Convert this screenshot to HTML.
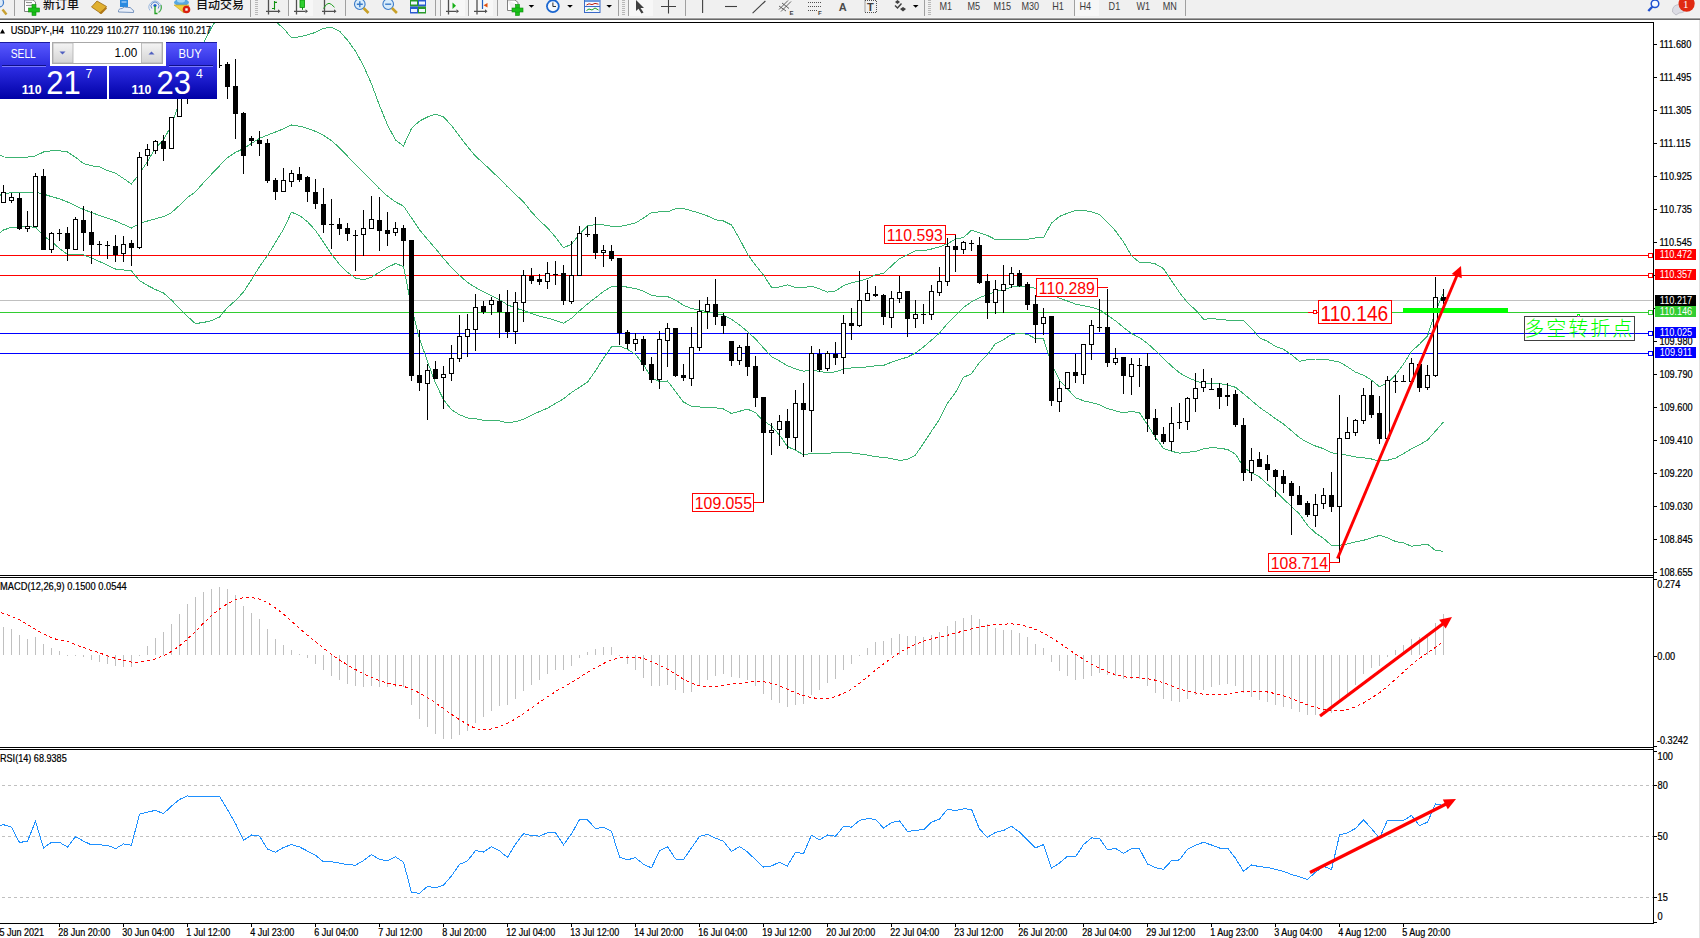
<!DOCTYPE html>
<html><head><meta charset="utf-8"><title>USDJPY H4</title>
<style>html,body{margin:0;padding:0;background:#fff;}body{width:1700px;height:938px;overflow:hidden;position:relative;}text{white-space:pre;}</style>
</head><body>
<svg width="1700" height="938" viewBox="0 0 1700 938" style="position:absolute;left:0;top:0"><rect x="0" y="0" width="1700" height="17" fill="#f0f0f0"/>
<rect x="0" y="17" width="1700" height="1" fill="#f4f4f4"/>
<rect x="0" y="18" width="1700" height="1" fill="#a0a0a0"/>
<rect x="0" y="19" width="1700" height="1" fill="#696969"/>
<rect x="0" y="20" width="1700" height="2" fill="#fff"/>
<rect x="289" y="0" width="24" height="16" fill="#f7f7f7"/>
<rect x="441" y="0" width="24" height="16" fill="#f7f7f7"/>
<rect x="469" y="0" width="24" height="16" fill="#f7f7f7"/>
<rect x="629" y="0" width="24" height="16" fill="#f7f7f7"/>
<rect x="1075" y="0" width="24" height="16" fill="#f7f7f7"/>
<rect x="14" y="0" width="1" height="16" fill="#a0a0a0"/>
<rect x="288" y="0" width="1" height="16" fill="#a0a0a0"/>
<rect x="345" y="0" width="1" height="16" fill="#a0a0a0"/>
<rect x="435" y="0" width="1" height="16" fill="#a0a0a0"/>
<rect x="440" y="0" width="1" height="16" fill="#a0a0a0"/>
<rect x="468" y="0" width="1" height="16" fill="#a0a0a0"/>
<rect x="497" y="0" width="1" height="16" fill="#a0a0a0"/>
<rect x="618" y="0" width="1" height="16" fill="#a0a0a0"/>
<rect x="628" y="0" width="1" height="16" fill="#a0a0a0"/>
<rect x="685" y="0" width="1" height="16" fill="#a0a0a0"/>
<rect x="924" y="0" width="1" height="16" fill="#a0a0a0"/>
<rect x="1074" y="0" width="1" height="16" fill="#a0a0a0"/>
<rect x="1185" y="0" width="1" height="16" fill="#a0a0a0"/>
<rect x="250" y="0" width="1" height="17" fill="#a0a0a0"/>
<rect x="255" y="0" width="3" height="1" fill="#b8b8b8"/>
<rect x="255" y="2" width="3" height="1" fill="#b8b8b8"/>
<rect x="255" y="4" width="3" height="1" fill="#b8b8b8"/>
<rect x="255" y="6" width="3" height="1" fill="#b8b8b8"/>
<rect x="255" y="8" width="3" height="1" fill="#b8b8b8"/>
<rect x="255" y="10" width="3" height="1" fill="#b8b8b8"/>
<rect x="255" y="12" width="3" height="1" fill="#b8b8b8"/>
<rect x="255" y="14" width="3" height="1" fill="#b8b8b8"/>
<rect x="622" y="0" width="3" height="1" fill="#b8b8b8"/>
<rect x="622" y="2" width="3" height="1" fill="#b8b8b8"/>
<rect x="622" y="4" width="3" height="1" fill="#b8b8b8"/>
<rect x="622" y="6" width="3" height="1" fill="#b8b8b8"/>
<rect x="622" y="8" width="3" height="1" fill="#b8b8b8"/>
<rect x="622" y="10" width="3" height="1" fill="#b8b8b8"/>
<rect x="622" y="12" width="3" height="1" fill="#b8b8b8"/>
<rect x="622" y="14" width="3" height="1" fill="#b8b8b8"/>
<rect x="928" y="0" width="3" height="1" fill="#b8b8b8"/>
<rect x="928" y="2" width="3" height="1" fill="#b8b8b8"/>
<rect x="928" y="4" width="3" height="1" fill="#b8b8b8"/>
<rect x="928" y="6" width="3" height="1" fill="#b8b8b8"/>
<rect x="928" y="8" width="3" height="1" fill="#b8b8b8"/>
<rect x="928" y="10" width="3" height="1" fill="#b8b8b8"/>
<rect x="928" y="12" width="3" height="1" fill="#b8b8b8"/>
<rect x="928" y="14" width="3" height="1" fill="#b8b8b8"/>
<g fill="#101010" font-family="'Liberation Sans', 'Noto Sans CJK SC', sans-serif" font-weight="500">
<text x="43" y="8.6" font-size="12">新订单</text>
<text x="196" y="8.6" font-size="12">自动交易</text>
</g>
<circle cx="-1" cy="2.5" r="4.5" fill="#dceaf8" stroke="#3a78c8" stroke-width="1.2"/><line x1="2.5" y1="9.5" x2="6.5" y2="14.5" stroke="#c8a030" stroke-width="2.4"/>
<path d="M24.5,0 V11.5 H32 M24.5,0 H33 L35.5,2 V5" fill="#fff" stroke="#808080"/><rect x="26" y="2" width="6" height="1" fill="#909090"/><rect x="26" y="5" width="6" height="1" fill="#909090"/>
<rect x="32" y="4.5" width="4" height="11" fill="#19c019" stroke="#0a8a0a" stroke-width="0.6"/><rect x="28.5" y="8" width="11" height="4" fill="#19c019" stroke="#0a8a0a" stroke-width="0.6"/><rect x="32.4" y="8.4" width="3.2" height="3.2" fill="#19c019"/>
<polygon points="91.5,7 97,1 106.5,6.5 101,13.5" fill="#e0b030" stroke="#9a6a10" stroke-width="0.8"/><polygon points="99,13 106,7 107,8.5 101.5,14" fill="#b07818"/>
<rect x="120" y="0" width="8" height="7" fill="#2a8ae0"/><rect x="121.5" y="1.5" width="5" height="1" fill="#cfe6ff"/><path d="M118.5,12 Q118,8.5 122,8.5 Q124,6 127.5,7.5 Q131,6.5 132,9.5 Q134.5,10 133.5,12.5 Z" fill="#e8eef8" stroke="#6a8ab8" stroke-width="0.9"/>
<path d="M150,10.5 A6,6 0 1 1 160,10.5" fill="none" stroke="#9ab8e0" stroke-width="1"/><path d="M151.8,8.5 A4,4 0 1 1 158.2,8.5" fill="none" stroke="#5a88d0" stroke-width="1"/><circle cx="155" cy="5.5" r="1.6" fill="#1a5ad0"/><path d="M155,6 V13.5 H157.5" fill="none" stroke="#20a020" stroke-width="1.3"/><path d="M158.5,12.5 A6.5,6.5 0 0 0 161,5" fill="none" stroke="#50b050" stroke-width="1.2"/>
<ellipse cx="181.5" cy="2.5" rx="7.5" ry="3.5" fill="#58a8e0"/><ellipse cx="181" cy="0.5" rx="4" ry="2" fill="#a8d8f8"/><polygon points="174,5 189,5 184,13" fill="#f0d040" stroke="#c0a020" stroke-width="0.6"/><circle cx="186.5" cy="9.5" r="3.8" fill="#d82010"/><rect x="185.3" y="8.3" width="2.4" height="2.4" fill="#fff"/>
<path d="M268.5,0 V14.5 M266,11.3 H278" fill="none" stroke="#505050" stroke-width="1.3"/><polygon points="278,9.3 280.5,11.3 278,13.3" fill="#505050"/><path d="M274.5,1 V9.8 M274.5,2.4 H277 M274.5,8.5 H272" fill="none" stroke="#109010" stroke-width="1.1"/>
<path d="M296.5,0 V14.5 M294,11.3 H305.5" fill="none" stroke="#505050" stroke-width="1.3"/><polygon points="305.5,9.3 308.0,11.3 305.5,13.3" fill="#505050"/><rect x="300" y="0" width="4.5" height="7.5" fill="#30d030" stroke="#089008" stroke-width="0.8"/><rect x="302" y="7.5" width="1" height="2.3" fill="#089008"/>
<path d="M324.5,0 V14.5 M322,11.3 H334" fill="none" stroke="#505050" stroke-width="1.3"/><polygon points="334,9.3 336.5,11.3 334,13.3" fill="#505050"/><path d="M323.5,8.5 Q326.5,3 329,3.3 Q331,3.5 334.5,7.3" fill="none" stroke="#20a020" stroke-width="1"/>
<circle cx="359.8" cy="4.2" r="5.3" fill="#d8ecfa" stroke="#3a7ac8" stroke-width="1.1"/><path d="M356.8,4.2 H362.8 M359.8,1.2 V7.2" stroke="#3a7ac8" stroke-width="1.4"/><line x1="363.5" y1="8" x2="368.5" y2="13" stroke="#c8a028" stroke-width="2.6"/>
<circle cx="388.2" cy="4.2" r="5.3" fill="#d8ecfa" stroke="#3a7ac8" stroke-width="1.1"/><path d="M385.2,4.2 H391.2" stroke="#3a7ac8" stroke-width="1.4"/><line x1="391.9" y1="8" x2="396.9" y2="13" stroke="#c8a028" stroke-width="2.6"/>
<rect x="410" y="0" width="8" height="6.5" fill="#2a9a2a"/><rect x="418" y="0" width="8" height="6.5" fill="#2a5ad0"/><rect x="410" y="6.5" width="8" height="7" fill="#2a5ad0"/><rect x="418" y="6.5" width="8" height="7" fill="#2a9a2a"/>
<rect x="411" y="1.5" width="6" height="3" fill="#f0f6ff"/>
<rect x="419" y="1.5" width="6" height="3" fill="#f0f6ff"/>
<rect x="411" y="9" width="6" height="3" fill="#f0f6ff"/>
<rect x="419" y="9" width="6" height="3" fill="#f0f6ff"/>
<path d="M448.5,0 V14.5 M446,11.3 H456.5" fill="none" stroke="#505050" stroke-width="1.3"/><polygon points="456.5,9.3 459.0,11.3 456.5,13.3" fill="#505050"/><polygon points="452.5,2.5 452.5,9 456,5.7" fill="#18b018"/>
<path d="M477.0,0 V14.5 M474,11.3 H485" fill="none" stroke="#505050" stroke-width="1.3"/><polygon points="485,9.3 487.5,11.3 485,13.3" fill="#505050"/><path d="M482.5,0 V9" stroke="#2060c0" stroke-width="1.2"/><polygon points="483.5,5.3 487.5,3 487.5,7.6" fill="#e05010"/>
<path d="M507.5,0 V10.5 H512 M507.5,0 H515 L518,2.5 V5" fill="#fff" stroke="#808080"/>
<rect x="515.5" y="4.5" width="4" height="11" fill="#19c019" stroke="#0a8a0a" stroke-width="0.6"/><rect x="512" y="8" width="11" height="4" fill="#19c019" stroke="#0a8a0a" stroke-width="0.6"/><rect x="515.9" y="8.4" width="3.2" height="3.2" fill="#19c019"/>
<polygon points="528.6,5 534.2,5 531.4,7.8" fill="#000"/>
<polygon points="567.2,5 572.8000000000001,5 570.0,7.8" fill="#000"/>
<polygon points="606.4,5 612.0,5 609.1999999999999,7.8" fill="#000"/>
<polygon points="912.9,5 918.5,5 915.6999999999999,7.8" fill="#000"/>
<circle cx="552.9" cy="6.2" r="6.8" fill="#1a66d0"/><circle cx="552.9" cy="6.2" r="5" fill="#f4f8fc"/><path d="M552.9,2.5 V6.5 H556" fill="none" stroke="#303030" stroke-width="1"/>
<rect x="584.5" y="0" width="15.5" height="12.5" fill="#f4f8ff" stroke="#3a6ac8" stroke-width="1"/><rect x="585" y="0" width="15" height="2" fill="#6a9ae0"/><rect x="585" y="6" width="15" height="1" fill="#3a6ac8"/><path d="M586.5,5 L589,3.8 L592,4.6 L595,3.4 L598.5,4.2" fill="none" stroke="#c02010"/><path d="M586.5,10.5 L589,9 L592,10 L595,8 L598.5,10" fill="none" stroke="#20a020"/>
<polygon points="636,0 636,11 638.5,8.8 641.5,13.5 643.5,12.5 640.5,8 644,8" fill="#404040"/>
<path d="M668.5,0 V13.5 M661,6.5 H676" stroke="#404040" stroke-width="1.1"/>
<path d="M702.6,0 V13" stroke="#404040" stroke-width="1.1"/><path d="M725,6.5 H737" stroke="#404040" stroke-width="1.1"/><path d="M752.6,13.2 L765.4,1" stroke="#404040" stroke-width="1.1"/>
<path d="M779,9.5 L788,0.5 M781,11.5 L791,1.5 M779,6 L786,11 M782,3 L789,8.5" stroke="#505050" stroke-width="0.9"/>
<path d="M808,2.5 H821 M808,6.5 H821 M808,10.5 H817" stroke="#505050" stroke-dasharray="1 1"/>
<g fill="#404040" font-family="'Liberation Sans', sans-serif" font-weight="bold" font-size="6"><text x="789.5" y="14.5">E</text><text x="818" y="14.5">F</text></g>
<text x="838.8" y="10.8" font-size="11" fill="#4a4a4a" font-weight="bold" font-family="'Liberation Sans', sans-serif">A</text>
<rect x="865" y="0.5" width="11.5" height="12" fill="none" stroke="#505050" stroke-dasharray="1 1"/><text x="867" y="11" font-size="11" fill="#404040" font-weight="bold" font-family="'Liberation Sans', sans-serif">T</text>
<polygon points="895,2 897.5,0 900,2 897.5,4" fill="#404040"/><path d="M895,5.5 L897.5,8 L901.5,3.5" fill="none" stroke="#404040" stroke-width="1.4"/><polygon points="900,9 903,7 906,9 903,11.5" fill="#404040"/>
<g font-size="10" fill="#3c3c3c" font-family="'Liberation Sans', sans-serif">
<text transform="translate(939.5,10) scale(0.91,1)">M1</text>
<text transform="translate(967.5,10) scale(0.91,1)">M5</text>
<text transform="translate(993.5,10) scale(0.91,1)">M15</text>
<text transform="translate(1021.4,10) scale(0.91,1)">M30</text>
<text transform="translate(1052.3,10) scale(0.91,1)">H1</text>
<text transform="translate(1079.5,10) scale(0.91,1)">H4</text>
<text transform="translate(1108.6,10) scale(0.91,1)">D1</text>
<text transform="translate(1136.4,10) scale(0.91,1)">W1</text>
<text transform="translate(1162.7,10) scale(0.91,1)">MN</text>
</g>
<circle cx="1655" cy="3.8" r="3.8" fill="#f4f8ff" stroke="#2050d0" stroke-width="1.5"/><line x1="1652.3" y1="6.7" x2="1648.3" y2="11" stroke="#2050d0" stroke-width="2.3"/>
<path d="M1672.5,12 Q1672,5 1679,4.5 Q1685,5 1685,9.5 Q1685,12.5 1679,13 L1676,15 Z" fill="#dcdce4" stroke="#b8b8c0" stroke-width="0.8"/><circle cx="1686.6" cy="3.7" r="8.1" fill="#e02a12"/><text x="1683" y="7.6" font-size="11" fill="#fff" font-family="'Liberation Serif', serif">1</text>
<defs>
<clipPath id="cm"><rect x="0" y="23" width="1653" height="552"/></clipPath>
<clipPath id="cd"><rect x="0" y="578" width="1653" height="169"/></clipPath>
<clipPath id="cr"><rect x="0" y="750" width="1653" height="173"/></clipPath>
<linearGradient id="gbtn" x1="0" y1="0" x2="0" y2="1"><stop offset="0" stop-color="#5a5aff"/><stop offset="1" stop-color="#2d2de0"/></linearGradient>
<linearGradient id="gpx" x1="0" y1="0" x2="0" y2="1"><stop offset="0" stop-color="#2f2fe6"/><stop offset="1" stop-color="#0000a6"/></linearGradient>
<linearGradient id="ggr" x1="0" y1="0" x2="0" y2="1"><stop offset="0" stop-color="#f4f4f4"/><stop offset="1" stop-color="#d4d4d4"/></linearGradient>
</defs>
<g clip-path="url(#cm)" shape-rendering="crispEdges">
<line x1="0" y1="255.5" x2="1648" y2="255.5" stroke="#ff0000"/>
<rect x="1648.5" y="253.5" width="4" height="4" fill="#fff" stroke="#ff0000"/>
<line x1="0" y1="275.5" x2="1648" y2="275.5" stroke="#ff0000"/>
<rect x="1648.5" y="273.5" width="4" height="4" fill="#fff" stroke="#ff0000"/>
<line x1="0" y1="312.5" x2="1648" y2="312.5" stroke="#32cd32"/>
<rect x="1648.5" y="310.5" width="4" height="4" fill="#fff" stroke="#32cd32"/>
<line x1="0" y1="333.5" x2="1648" y2="333.5" stroke="#0000ff"/>
<rect x="1648.5" y="331.5" width="4" height="4" fill="#fff" stroke="#0000ff"/>
<line x1="0" y1="353.5" x2="1648" y2="353.5" stroke="#0000ff"/>
<rect x="1648.5" y="351.5" width="4" height="4" fill="#fff" stroke="#0000ff"/>
<line x1="0" y1="300.5" x2="1653" y2="300.5" stroke="#c0c0c0"/>
<polyline points="-4.5,152.0 3.5,157.0 11.5,157.1 19.5,157.1 27.5,157.1 35.5,155.9 43.5,152.0 51.5,150.8 59.5,150.8 67.5,152.0 75.5,157.3 83.5,163.5 91.5,165.8 99.5,166.9 107.5,170.6 115.5,173.1 123.5,178.5 131.5,184.0 139.5,173.4 147.5,161.5 155.5,147.9 163.5,140.1 171.5,125.0 179.5,102.3 187.5,78.2 195.5,60.1 203.5,42.8 211.5,27.7 219.5,14.6 227.5,7.9 235.5,4.3 243.5,5.1 251.5,6.9 259.5,10.1 267.5,14.8 275.5,21.5 283.5,28.3 291.5,37.9 299.5,36.8 307.5,34.9 315.5,32.4 323.5,28.3 331.5,27.2 339.5,31.1 347.5,40.2 355.5,51.2 363.5,65.8 371.5,83.8 379.5,105.5 387.5,124.9 395.5,140.1 403.5,145.9 411.5,128.4 419.5,121.1 427.5,117.0 435.5,114.2 443.5,117.0 451.5,125.4 459.5,136.1 467.5,146.6 475.5,156.2 483.5,163.4 491.5,170.9 499.5,178.7 507.5,186.8 515.5,194.5 523.5,201.8 531.5,212.0 539.5,220.5 547.5,227.9 555.5,237.2 563.5,247.8 571.5,244.2 579.5,234.3 587.5,225.9 595.5,224.6 603.5,224.9 611.5,226.2 619.5,226.6 627.5,224.9 635.5,222.9 643.5,218.1 651.5,212.5 659.5,211.9 667.5,212.0 675.5,208.7 683.5,208.5 691.5,210.8 699.5,213.1 707.5,216.0 715.5,219.7 723.5,221.0 731.5,225.0 739.5,238.7 747.5,254.2 755.5,265.1 763.5,275.0 771.5,287.2 779.5,287.0 787.5,284.9 795.5,287.4 803.5,287.7 811.5,286.2 819.5,288.9 827.5,292.1 835.5,290.9 843.5,285.6 851.5,282.9 859.5,280.9 867.5,278.7 875.5,274.8 883.5,273.5 891.5,265.9 899.5,258.6 907.5,254.8 915.5,250.9 923.5,250.7 931.5,249.0 939.5,246.8 947.5,243.8 955.5,239.0 963.5,237.5 971.5,230.2 979.5,232.7 987.5,235.5 995.5,239.6 1003.5,239.8 1011.5,239.6 1019.5,239.3 1027.5,239.3 1035.5,238.0 1043.5,237.9 1051.5,223.0 1059.5,216.4 1067.5,213.2 1075.5,210.5 1083.5,210.4 1091.5,211.9 1099.5,214.6 1107.5,222.2 1115.5,230.9 1123.5,242.0 1131.5,255.8 1139.5,262.3 1147.5,262.1 1155.5,264.0 1163.5,268.6 1171.5,280.7 1179.5,292.5 1187.5,302.8 1195.5,309.9 1203.5,319.1 1211.5,318.9 1219.5,319.1 1227.5,320.2 1235.5,320.5 1243.5,320.2 1251.5,328.3 1259.5,337.9 1267.5,341.3 1275.5,346.4 1283.5,349.3 1291.5,354.8 1299.5,361.4 1307.5,359.7 1315.5,359.0 1323.5,359.0 1331.5,360.5 1339.5,362.1 1347.5,366.8 1355.5,372.2 1363.5,375.2 1371.5,380.1 1379.5,386.8 1387.5,382.9 1395.5,374.8 1403.5,364.2 1411.5,351.3 1419.5,344.3 1427.5,336.0 1435.5,311.7 1443.5,292.6" fill="none" stroke="#3cb371" stroke-width="1"/>
<polyline points="-4.5,197.5 3.5,193.5 11.5,192.8 19.5,192.8 27.5,192.8 35.5,192.3 43.5,194.0 51.5,196.7 59.5,198.8 67.5,202.0 75.5,205.8 83.5,209.5 91.5,212.5 99.5,215.5 107.5,218.2 115.5,221.0 123.5,224.5 131.5,228.0 139.5,223.5 147.5,221.0 155.5,218.8 163.5,216.6 171.5,212.6 179.5,205.4 187.5,197.3 195.5,191.9 203.5,182.6 211.5,174.2 219.5,165.8 227.5,157.7 235.5,152.4 243.5,148.6 251.5,143.4 259.5,138.3 267.5,135.1 275.5,132.0 283.5,128.8 291.5,125.0 299.5,126.2 307.5,128.3 315.5,131.4 323.5,135.3 331.5,140.6 339.5,147.8 347.5,156.2 355.5,164.6 363.5,172.8 371.5,180.5 379.5,188.8 387.5,196.1 395.5,201.9 403.5,206.1 411.5,217.9 419.5,229.8 427.5,239.3 435.5,248.6 443.5,258.3 451.5,267.6 459.5,275.4 467.5,282.3 475.5,287.5 483.5,291.9 491.5,295.7 499.5,299.8 507.5,304.7 515.5,308.1 523.5,310.5 531.5,313.5 539.5,316.1 547.5,318.1 555.5,320.3 563.5,323.3 571.5,318.3 579.5,310.8 587.5,304.0 595.5,297.7 603.5,291.5 611.5,286.5 619.5,286.3 627.5,287.1 635.5,288.6 643.5,291.3 651.5,295.2 659.5,296.6 667.5,296.5 675.5,300.1 683.5,305.2 691.5,308.6 699.5,310.1 707.5,311.6 715.5,313.8 723.5,315.0 731.5,319.3 739.5,325.0 747.5,331.6 755.5,338.9 763.5,348.0 771.5,356.6 779.5,361.0 787.5,365.7 795.5,368.9 803.5,371.2 811.5,369.9 819.5,371.4 827.5,372.7 835.5,371.8 843.5,369.0 851.5,368.0 859.5,367.4 867.5,366.9 875.5,365.8 883.5,365.4 891.5,362.2 899.5,359.5 907.5,357.1 915.5,352.9 923.5,347.0 931.5,340.1 939.5,333.1 947.5,323.5 955.5,315.8 963.5,307.4 971.5,301.9 979.5,297.6 987.5,295.0 995.5,291.6 1003.5,289.7 1011.5,287.1 1019.5,286.3 1027.5,286.9 1035.5,288.3 1043.5,288.4 1051.5,293.5 1059.5,298.3 1067.5,301.0 1075.5,304.1 1083.5,305.6 1091.5,307.3 1099.5,309.6 1107.5,315.4 1115.5,320.8 1123.5,327.5 1131.5,333.5 1139.5,337.6 1147.5,343.4 1155.5,350.7 1163.5,358.5 1171.5,366.0 1179.5,372.8 1187.5,377.5 1195.5,380.7 1203.5,383.9 1211.5,383.3 1219.5,383.6 1227.5,384.9 1235.5,387.3 1243.5,393.7 1251.5,400.5 1259.5,407.4 1267.5,412.8 1275.5,418.7 1283.5,424.1 1291.5,430.7 1299.5,437.7 1307.5,442.5 1315.5,446.0 1323.5,448.7 1331.5,452.9 1339.5,453.7 1347.5,455.4 1355.5,457.0 1363.5,457.7 1371.5,459.0 1379.5,461.1 1387.5,460.3 1395.5,458.1 1403.5,453.6 1411.5,448.8 1419.5,444.8 1427.5,440.1 1435.5,431.1 1443.5,422.0" fill="none" stroke="#3cb371" stroke-width="1"/>
<polyline points="-4.5,236.5 3.5,230.0 11.5,227.3 19.5,227.0 27.5,226.9 35.5,227.1 43.5,236.0 51.5,241.5 59.5,248.5 67.5,254.5 75.5,254.9 83.5,254.9 91.5,258.0 99.5,261.5 107.5,265.3 115.5,269.0 123.5,269.9 131.5,270.9 139.5,280.5 147.5,285.5 155.5,289.6 163.5,293.0 171.5,300.1 179.5,308.5 187.5,316.5 195.5,323.6 203.5,322.4 211.5,320.8 219.5,317.0 227.5,307.5 235.5,300.5 243.5,292.0 251.5,279.8 259.5,266.6 267.5,255.5 275.5,242.4 283.5,229.2 291.5,212.2 299.5,215.5 307.5,221.7 315.5,230.5 323.5,242.2 331.5,254.1 339.5,264.5 347.5,272.3 355.5,278.0 363.5,279.8 371.5,277.2 379.5,272.1 387.5,267.3 395.5,263.6 403.5,266.4 411.5,307.3 419.5,338.5 427.5,361.6 435.5,383.1 443.5,399.6 451.5,409.8 459.5,414.7 467.5,418.0 475.5,418.8 483.5,420.3 491.5,420.4 499.5,420.9 507.5,422.7 515.5,421.7 523.5,419.2 531.5,415.1 539.5,411.6 547.5,408.2 555.5,403.4 563.5,398.8 571.5,392.4 579.5,387.3 587.5,382.2 595.5,370.8 603.5,358.1 611.5,346.9 619.5,346.1 627.5,349.3 635.5,354.4 643.5,364.5 651.5,378.0 659.5,381.4 667.5,381.0 675.5,391.5 683.5,402.0 691.5,406.3 699.5,407.0 707.5,407.2 715.5,407.8 723.5,409.0 731.5,413.5 739.5,411.3 747.5,409.1 755.5,412.7 763.5,421.0 771.5,426.0 779.5,435.0 787.5,446.5 795.5,450.4 803.5,454.6 811.5,453.5 819.5,453.9 827.5,453.3 835.5,452.6 843.5,452.4 851.5,453.0 859.5,454.0 867.5,455.1 875.5,456.8 883.5,457.3 891.5,458.6 899.5,460.4 907.5,459.4 915.5,455.0 923.5,443.3 931.5,431.1 939.5,419.3 947.5,403.2 955.5,392.6 963.5,377.4 971.5,373.7 979.5,362.4 987.5,354.6 995.5,343.6 1003.5,339.6 1011.5,334.5 1019.5,333.3 1027.5,334.4 1035.5,338.6 1043.5,338.9 1051.5,364.0 1059.5,380.3 1067.5,388.8 1075.5,397.7 1083.5,400.8 1091.5,402.7 1099.5,404.6 1107.5,408.6 1115.5,410.8 1123.5,413.0 1131.5,411.3 1139.5,412.9 1147.5,424.7 1155.5,437.4 1163.5,448.4 1171.5,451.3 1179.5,453.2 1187.5,452.2 1195.5,451.5 1203.5,448.7 1211.5,447.6 1219.5,448.2 1227.5,449.5 1235.5,454.1 1243.5,467.3 1251.5,472.6 1259.5,476.9 1267.5,484.3 1275.5,491.0 1283.5,499.0 1291.5,506.6 1299.5,514.0 1307.5,525.3 1315.5,533.1 1323.5,538.4 1331.5,545.3 1339.5,545.3 1347.5,544.0 1355.5,541.8 1363.5,540.3 1371.5,537.9 1379.5,535.4 1387.5,537.7 1395.5,541.5 1403.5,542.9 1411.5,546.2 1419.5,545.3 1427.5,544.1 1435.5,550.5 1443.5,551.3" fill="none" stroke="#3cb371" stroke-width="1"/>
<rect x="3" y="185" width="1" height="18" fill="#000"/>
<rect x="1.5" y="192.5" width="4" height="10" fill="#fff" stroke="#000"/>
<rect x="11" y="193" width="1" height="10" fill="#000"/>
<rect x="9.5" y="197.5" width="4" height="3" fill="#fff" stroke="#000"/>
<rect x="19" y="193" width="1" height="37" fill="#000"/>
<rect x="17" y="198" width="5" height="31" fill="#000"/>
<rect x="27" y="211" width="1" height="21" fill="#000"/>
<rect x="25.5" y="226.5" width="4" height="2" fill="#fff" stroke="#000"/>
<rect x="35" y="173" width="1" height="54" fill="#000"/>
<rect x="33.5" y="176.5" width="4" height="50" fill="#fff" stroke="#000"/>
<rect x="43" y="169" width="1" height="81" fill="#000"/>
<rect x="41" y="176" width="5" height="74" fill="#000"/>
<rect x="51" y="232" width="1" height="21" fill="#000"/>
<rect x="49.5" y="233.5" width="4" height="16" fill="#fff" stroke="#000"/>
<rect x="59" y="229" width="1" height="12" fill="#000"/>
<rect x="57" y="233" width="5" height="1" fill="#000"/>
<rect x="67" y="227" width="1" height="34" fill="#000"/>
<rect x="65" y="233" width="5" height="16" fill="#000"/>
<rect x="75" y="217" width="1" height="33" fill="#000"/>
<rect x="73.5" y="219.5" width="4" height="30" fill="#fff" stroke="#000"/>
<rect x="83" y="206" width="1" height="45" fill="#000"/>
<rect x="81" y="220" width="5" height="13" fill="#000"/>
<rect x="91" y="211" width="1" height="53" fill="#000"/>
<rect x="89" y="232" width="5" height="13" fill="#000"/>
<rect x="99" y="241" width="1" height="14" fill="#000"/>
<rect x="97" y="244" width="5" height="1" fill="#000"/>
<rect x="107" y="241" width="1" height="18" fill="#000"/>
<rect x="105" y="245" width="5" height="1" fill="#000"/>
<rect x="115" y="235" width="1" height="27" fill="#000"/>
<rect x="113" y="246" width="5" height="9" fill="#000"/>
<rect x="123" y="236" width="1" height="26" fill="#000"/>
<rect x="121.5" y="244.5" width="4" height="9" fill="#fff" stroke="#000"/>
<rect x="131" y="240" width="1" height="26" fill="#000"/>
<rect x="129" y="243" width="5" height="5" fill="#000"/>
<rect x="139" y="152" width="1" height="97" fill="#000"/>
<rect x="137.5" y="157.5" width="4" height="90" fill="#fff" stroke="#000"/>
<rect x="147" y="144" width="1" height="22" fill="#000"/>
<rect x="145.5" y="149.5" width="4" height="6" fill="#fff" stroke="#000"/>
<rect x="155" y="140" width="1" height="14" fill="#000"/>
<rect x="153.5" y="141.5" width="4" height="9" fill="#fff" stroke="#000"/>
<rect x="163" y="135" width="1" height="26" fill="#000"/>
<rect x="161" y="141" width="5" height="8" fill="#000"/>
<rect x="171" y="117" width="1" height="32" fill="#000"/>
<rect x="169.5" y="117.5" width="4" height="31" fill="#fff" stroke="#000"/>
<rect x="179" y="80" width="1" height="37" fill="#000"/>
<rect x="177.5" y="85.5" width="4" height="31" fill="#fff" stroke="#000"/>
<rect x="187" y="60" width="1" height="44" fill="#000"/>
<rect x="185.5" y="65.5" width="4" height="19" fill="#fff" stroke="#000"/>
<rect x="195" y="58" width="1" height="12" fill="#000"/>
<rect x="193" y="64" width="5" height="3" fill="#000"/>
<rect x="203" y="58" width="1" height="14" fill="#000"/>
<rect x="201" y="63" width="5" height="2" fill="#000"/>
<rect x="211" y="55" width="1" height="15" fill="#000"/>
<rect x="209" y="65" width="5" height="1" fill="#000"/>
<rect x="219" y="49" width="1" height="19" fill="#000"/>
<rect x="219" y="65" width="3" height="1" fill="#000"/>
<rect x="227" y="62" width="1" height="37" fill="#000"/>
<rect x="225" y="64" width="5" height="23" fill="#000"/>
<rect x="235" y="59" width="1" height="80" fill="#000"/>
<rect x="233" y="86" width="5" height="28" fill="#000"/>
<rect x="243" y="112" width="1" height="62" fill="#000"/>
<rect x="241" y="113" width="5" height="43" fill="#000"/>
<rect x="251" y="136" width="1" height="10" fill="#000"/>
<rect x="249" y="138" width="5" height="3" fill="#000"/>
<rect x="259" y="131" width="1" height="25" fill="#000"/>
<rect x="257" y="140" width="5" height="4" fill="#000"/>
<rect x="267" y="139" width="1" height="44" fill="#000"/>
<rect x="265" y="143" width="5" height="38" fill="#000"/>
<rect x="275" y="178" width="1" height="22" fill="#000"/>
<rect x="273" y="180" width="5" height="12" fill="#000"/>
<rect x="283" y="168" width="1" height="24" fill="#000"/>
<rect x="281.5" y="180.5" width="4" height="11" fill="#fff" stroke="#000"/>
<rect x="291" y="170" width="1" height="17" fill="#000"/>
<rect x="289.5" y="173.5" width="4" height="8" fill="#fff" stroke="#000"/>
<rect x="299" y="167" width="1" height="15" fill="#000"/>
<rect x="297" y="174" width="5" height="6" fill="#000"/>
<rect x="307" y="176" width="1" height="26" fill="#000"/>
<rect x="305" y="177" width="5" height="15" fill="#000"/>
<rect x="315" y="179" width="1" height="30" fill="#000"/>
<rect x="313" y="192" width="5" height="12" fill="#000"/>
<rect x="323" y="188" width="1" height="45" fill="#000"/>
<rect x="321" y="204" width="5" height="21" fill="#000"/>
<rect x="331" y="199" width="1" height="50" fill="#000"/>
<rect x="329" y="224" width="5" height="1" fill="#000"/>
<rect x="339" y="218" width="1" height="17" fill="#000"/>
<rect x="337" y="224" width="5" height="5" fill="#000"/>
<rect x="347" y="223" width="1" height="18" fill="#000"/>
<rect x="345" y="228" width="5" height="6" fill="#000"/>
<rect x="355" y="230" width="1" height="41" fill="#000"/>
<rect x="353" y="235" width="5" height="1" fill="#000"/>
<rect x="363" y="210" width="1" height="46" fill="#000"/>
<rect x="361.5" y="228.5" width="4" height="6" fill="#fff" stroke="#000"/>
<rect x="371" y="196" width="1" height="33" fill="#000"/>
<rect x="369.5" y="219.5" width="4" height="9" fill="#fff" stroke="#000"/>
<rect x="379" y="197" width="1" height="54" fill="#000"/>
<rect x="377" y="220" width="5" height="11" fill="#000"/>
<rect x="387" y="212" width="1" height="34" fill="#000"/>
<rect x="385" y="230" width="5" height="4" fill="#000"/>
<rect x="395" y="222" width="1" height="14" fill="#000"/>
<rect x="393.5" y="228.5" width="4" height="4" fill="#fff" stroke="#000"/>
<rect x="403" y="225" width="1" height="41" fill="#000"/>
<rect x="401" y="228" width="5" height="13" fill="#000"/>
<rect x="411" y="240" width="1" height="141" fill="#000"/>
<rect x="409" y="240" width="5" height="136" fill="#000"/>
<rect x="419" y="330" width="1" height="61" fill="#000"/>
<rect x="417" y="375" width="5" height="8" fill="#000"/>
<rect x="427" y="364" width="1" height="56" fill="#000"/>
<rect x="425.5" y="370.5" width="4" height="13" fill="#fff" stroke="#000"/>
<rect x="435" y="361" width="1" height="18" fill="#000"/>
<rect x="433" y="369" width="5" height="10" fill="#000"/>
<rect x="443" y="366" width="1" height="43" fill="#000"/>
<rect x="441.5" y="374.5" width="4" height="3" fill="#fff" stroke="#000"/>
<rect x="451" y="345" width="1" height="36" fill="#000"/>
<rect x="449.5" y="358.5" width="4" height="15" fill="#fff" stroke="#000"/>
<rect x="459" y="315" width="1" height="47" fill="#000"/>
<rect x="457.5" y="336.5" width="4" height="22" fill="#fff" stroke="#000"/>
<rect x="467" y="314" width="1" height="43" fill="#000"/>
<rect x="465.5" y="329.5" width="4" height="7" fill="#fff" stroke="#000"/>
<rect x="475" y="294" width="1" height="57" fill="#000"/>
<rect x="473.5" y="307.5" width="4" height="22" fill="#fff" stroke="#000"/>
<rect x="483" y="301" width="1" height="13" fill="#000"/>
<rect x="481" y="306" width="5" height="6" fill="#000"/>
<rect x="491" y="297" width="1" height="18" fill="#000"/>
<rect x="489.5" y="300.5" width="4" height="4" fill="#fff" stroke="#000"/>
<rect x="499" y="294" width="1" height="44" fill="#000"/>
<rect x="497" y="301" width="5" height="11" fill="#000"/>
<rect x="507" y="290" width="1" height="48" fill="#000"/>
<rect x="505" y="312" width="5" height="20" fill="#000"/>
<rect x="515" y="292" width="1" height="52" fill="#000"/>
<rect x="513.5" y="302.5" width="4" height="29" fill="#fff" stroke="#000"/>
<rect x="523" y="270" width="1" height="52" fill="#000"/>
<rect x="521.5" y="275.5" width="4" height="27" fill="#fff" stroke="#000"/>
<rect x="531" y="268" width="1" height="16" fill="#000"/>
<rect x="529" y="276" width="5" height="5" fill="#000"/>
<rect x="539" y="274" width="1" height="11" fill="#000"/>
<rect x="537" y="279" width="5" height="3" fill="#000"/>
<rect x="547" y="262" width="1" height="27" fill="#000"/>
<rect x="545.5" y="273.5" width="4" height="8" fill="#fff" stroke="#000"/>
<rect x="555" y="261" width="1" height="24" fill="#000"/>
<rect x="553" y="274" width="5" height="1" fill="#000"/>
<rect x="563" y="265" width="1" height="40" fill="#000"/>
<rect x="561" y="273" width="5" height="28" fill="#000"/>
<rect x="571" y="241" width="1" height="63" fill="#000"/>
<rect x="569.5" y="275.5" width="4" height="26" fill="#fff" stroke="#000"/>
<rect x="579" y="226" width="1" height="50" fill="#000"/>
<rect x="577.5" y="233.5" width="4" height="42" fill="#fff" stroke="#000"/>
<rect x="587" y="226" width="1" height="11" fill="#000"/>
<rect x="585" y="234" width="5" height="1" fill="#000"/>
<rect x="595" y="217" width="1" height="42" fill="#000"/>
<rect x="593" y="234" width="5" height="19" fill="#000"/>
<rect x="603" y="245" width="1" height="22" fill="#000"/>
<rect x="601.5" y="250.5" width="4" height="2" fill="#fff" stroke="#000"/>
<rect x="611" y="245" width="1" height="16" fill="#000"/>
<rect x="609" y="251" width="5" height="8" fill="#000"/>
<rect x="619" y="258" width="1" height="87" fill="#000"/>
<rect x="617" y="258" width="5" height="75" fill="#000"/>
<rect x="627" y="330" width="1" height="19" fill="#000"/>
<rect x="625" y="332" width="5" height="12" fill="#000"/>
<rect x="635" y="333" width="1" height="18" fill="#000"/>
<rect x="633.5" y="339.5" width="4" height="4" fill="#fff" stroke="#000"/>
<rect x="643" y="336" width="1" height="35" fill="#000"/>
<rect x="641" y="339" width="5" height="26" fill="#000"/>
<rect x="651" y="357" width="1" height="26" fill="#000"/>
<rect x="649" y="364" width="5" height="16" fill="#000"/>
<rect x="659" y="331" width="1" height="58" fill="#000"/>
<rect x="657.5" y="339.5" width="4" height="40" fill="#fff" stroke="#000"/>
<rect x="667" y="323" width="1" height="44" fill="#000"/>
<rect x="665.5" y="328.5" width="4" height="12" fill="#fff" stroke="#000"/>
<rect x="675" y="328" width="1" height="49" fill="#000"/>
<rect x="673" y="328" width="5" height="48" fill="#000"/>
<rect x="683" y="364" width="1" height="17" fill="#000"/>
<rect x="681" y="375" width="5" height="3" fill="#000"/>
<rect x="691" y="327" width="1" height="59" fill="#000"/>
<rect x="689.5" y="347.5" width="4" height="31" fill="#fff" stroke="#000"/>
<rect x="699" y="300" width="1" height="51" fill="#000"/>
<rect x="697.5" y="311.5" width="4" height="36" fill="#fff" stroke="#000"/>
<rect x="707" y="297" width="1" height="32" fill="#000"/>
<rect x="705.5" y="304.5" width="4" height="7" fill="#fff" stroke="#000"/>
<rect x="715" y="279" width="1" height="46" fill="#000"/>
<rect x="713" y="304" width="5" height="13" fill="#000"/>
<rect x="723" y="313" width="1" height="21" fill="#000"/>
<rect x="721" y="316" width="5" height="10" fill="#000"/>
<rect x="731" y="341" width="1" height="25" fill="#000"/>
<rect x="729" y="341" width="5" height="20" fill="#000"/>
<rect x="739" y="345" width="1" height="20" fill="#000"/>
<rect x="737.5" y="347.5" width="4" height="13" fill="#fff" stroke="#000"/>
<rect x="747" y="333" width="1" height="43" fill="#000"/>
<rect x="745" y="346" width="5" height="21" fill="#000"/>
<rect x="755" y="356" width="1" height="51" fill="#000"/>
<rect x="753" y="366" width="5" height="32" fill="#000"/>
<rect x="763" y="397" width="1" height="105" fill="#000"/>
<rect x="761" y="397" width="5" height="36" fill="#000"/>
<rect x="771" y="423" width="1" height="32" fill="#000"/>
<rect x="769.5" y="430.5" width="4" height="2" fill="#fff" stroke="#000"/>
<rect x="779" y="415" width="1" height="31" fill="#000"/>
<rect x="777.5" y="421.5" width="4" height="8" fill="#fff" stroke="#000"/>
<rect x="787" y="409" width="1" height="40" fill="#000"/>
<rect x="785" y="421" width="5" height="17" fill="#000"/>
<rect x="795" y="390" width="1" height="60" fill="#000"/>
<rect x="793.5" y="403.5" width="4" height="34" fill="#fff" stroke="#000"/>
<rect x="803" y="383" width="1" height="74" fill="#000"/>
<rect x="801" y="403" width="5" height="7" fill="#000"/>
<rect x="811" y="346" width="1" height="106" fill="#000"/>
<rect x="809.5" y="353.5" width="4" height="57" fill="#fff" stroke="#000"/>
<rect x="819" y="349" width="1" height="23" fill="#000"/>
<rect x="817" y="354" width="5" height="16" fill="#000"/>
<rect x="827" y="351" width="1" height="20" fill="#000"/>
<rect x="825.5" y="353.5" width="4" height="15" fill="#fff" stroke="#000"/>
<rect x="835" y="342" width="1" height="23" fill="#000"/>
<rect x="833" y="354" width="5" height="4" fill="#000"/>
<rect x="843" y="315" width="1" height="59" fill="#000"/>
<rect x="841.5" y="323.5" width="4" height="34" fill="#fff" stroke="#000"/>
<rect x="851" y="308" width="1" height="32" fill="#000"/>
<rect x="849" y="323" width="5" height="3" fill="#000"/>
<rect x="859" y="271" width="1" height="56" fill="#000"/>
<rect x="857.5" y="300.5" width="4" height="25" fill="#fff" stroke="#000"/>
<rect x="867" y="280" width="1" height="21" fill="#000"/>
<rect x="865.5" y="293.5" width="4" height="7" fill="#fff" stroke="#000"/>
<rect x="875" y="286" width="1" height="11" fill="#000"/>
<rect x="873" y="294" width="5" height="2" fill="#000"/>
<rect x="883" y="294" width="1" height="31" fill="#000"/>
<rect x="881" y="295" width="5" height="22" fill="#000"/>
<rect x="891" y="291" width="1" height="37" fill="#000"/>
<rect x="889.5" y="298.5" width="4" height="19" fill="#fff" stroke="#000"/>
<rect x="899" y="276" width="1" height="27" fill="#000"/>
<rect x="897.5" y="292.5" width="4" height="6" fill="#fff" stroke="#000"/>
<rect x="907" y="291" width="1" height="46" fill="#000"/>
<rect x="905" y="291" width="5" height="28" fill="#000"/>
<rect x="915" y="300" width="1" height="28" fill="#000"/>
<rect x="913.5" y="314.5" width="4" height="4" fill="#fff" stroke="#000"/>
<rect x="923" y="304" width="1" height="20" fill="#000"/>
<rect x="921" y="314" width="5" height="1" fill="#000"/>
<rect x="931" y="285" width="1" height="35" fill="#000"/>
<rect x="929.5" y="291.5" width="4" height="23" fill="#fff" stroke="#000"/>
<rect x="939" y="267" width="1" height="29" fill="#000"/>
<rect x="937.5" y="281.5" width="4" height="11" fill="#fff" stroke="#000"/>
<rect x="947" y="238" width="1" height="48" fill="#000"/>
<rect x="945.5" y="246.5" width="4" height="35" fill="#fff" stroke="#000"/>
<rect x="955" y="235" width="1" height="37" fill="#000"/>
<rect x="953" y="246" width="5" height="4" fill="#000"/>
<rect x="963" y="241" width="1" height="13" fill="#000"/>
<rect x="961.5" y="242.5" width="4" height="7" fill="#fff" stroke="#000"/>
<rect x="971" y="240" width="1" height="11" fill="#000"/>
<rect x="969" y="243" width="5" height="1" fill="#000"/>
<rect x="979" y="237" width="1" height="47" fill="#000"/>
<rect x="977" y="245" width="5" height="38" fill="#000"/>
<rect x="987" y="274" width="1" height="45" fill="#000"/>
<rect x="985" y="281" width="5" height="22" fill="#000"/>
<rect x="995" y="280" width="1" height="34" fill="#000"/>
<rect x="993.5" y="289.5" width="4" height="13" fill="#fff" stroke="#000"/>
<rect x="1003" y="265" width="1" height="48" fill="#000"/>
<rect x="1001.5" y="284.5" width="4" height="6" fill="#fff" stroke="#000"/>
<rect x="1011" y="267" width="1" height="21" fill="#000"/>
<rect x="1009.5" y="273.5" width="4" height="11" fill="#fff" stroke="#000"/>
<rect x="1019" y="270" width="1" height="17" fill="#000"/>
<rect x="1017" y="273" width="5" height="13" fill="#000"/>
<rect x="1027" y="282" width="1" height="28" fill="#000"/>
<rect x="1025" y="284" width="5" height="21" fill="#000"/>
<rect x="1035" y="295" width="1" height="48" fill="#000"/>
<rect x="1033" y="304" width="5" height="21" fill="#000"/>
<rect x="1043" y="308" width="1" height="27" fill="#000"/>
<rect x="1041.5" y="317.5" width="4" height="6" fill="#fff" stroke="#000"/>
<rect x="1051" y="316" width="1" height="90" fill="#000"/>
<rect x="1049" y="316" width="5" height="85" fill="#000"/>
<rect x="1059" y="381" width="1" height="31" fill="#000"/>
<rect x="1057.5" y="388.5" width="4" height="13" fill="#fff" stroke="#000"/>
<rect x="1067" y="372" width="1" height="17" fill="#000"/>
<rect x="1065.5" y="372.5" width="4" height="16" fill="#fff" stroke="#000"/>
<rect x="1075" y="354" width="1" height="29" fill="#000"/>
<rect x="1073" y="372" width="5" height="4" fill="#000"/>
<rect x="1083" y="344" width="1" height="40" fill="#000"/>
<rect x="1081.5" y="344.5" width="4" height="30" fill="#fff" stroke="#000"/>
<rect x="1091" y="320" width="1" height="40" fill="#000"/>
<rect x="1089.5" y="325.5" width="4" height="19" fill="#fff" stroke="#000"/>
<rect x="1099" y="299" width="1" height="33" fill="#000"/>
<rect x="1097" y="327" width="5" height="1" fill="#000"/>
<rect x="1107" y="289" width="1" height="78" fill="#000"/>
<rect x="1105" y="327" width="5" height="36" fill="#000"/>
<rect x="1115" y="348" width="1" height="17" fill="#000"/>
<rect x="1113.5" y="358.5" width="4" height="4" fill="#fff" stroke="#000"/>
<rect x="1123" y="357" width="1" height="37" fill="#000"/>
<rect x="1121" y="357" width="5" height="19" fill="#000"/>
<rect x="1131" y="358" width="1" height="37" fill="#000"/>
<rect x="1129.5" y="364.5" width="4" height="12" fill="#fff" stroke="#000"/>
<rect x="1139" y="358" width="1" height="29" fill="#000"/>
<rect x="1137" y="365" width="5" height="1" fill="#000"/>
<rect x="1147" y="353" width="1" height="79" fill="#000"/>
<rect x="1145" y="366" width="5" height="53" fill="#000"/>
<rect x="1155" y="409" width="1" height="31" fill="#000"/>
<rect x="1153" y="418" width="5" height="17" fill="#000"/>
<rect x="1163" y="427" width="1" height="17" fill="#000"/>
<rect x="1161" y="434" width="5" height="8" fill="#000"/>
<rect x="1171" y="407" width="1" height="44" fill="#000"/>
<rect x="1169.5" y="423.5" width="4" height="18" fill="#fff" stroke="#000"/>
<rect x="1179" y="403" width="1" height="26" fill="#000"/>
<rect x="1177" y="422" width="5" height="1" fill="#000"/>
<rect x="1187" y="397" width="1" height="33" fill="#000"/>
<rect x="1185.5" y="398.5" width="4" height="23" fill="#fff" stroke="#000"/>
<rect x="1195" y="373" width="1" height="39" fill="#000"/>
<rect x="1193.5" y="388.5" width="4" height="10" fill="#fff" stroke="#000"/>
<rect x="1203" y="369" width="1" height="23" fill="#000"/>
<rect x="1201.5" y="381.5" width="4" height="6" fill="#fff" stroke="#000"/>
<rect x="1211" y="378" width="1" height="12" fill="#000"/>
<rect x="1209" y="389" width="5" height="1" fill="#000"/>
<rect x="1219" y="383" width="1" height="26" fill="#000"/>
<rect x="1217" y="388" width="5" height="9" fill="#000"/>
<rect x="1227" y="383" width="1" height="23" fill="#000"/>
<rect x="1225" y="395" width="5" height="2" fill="#000"/>
<rect x="1235" y="390" width="1" height="37" fill="#000"/>
<rect x="1233" y="394" width="5" height="31" fill="#000"/>
<rect x="1243" y="418" width="1" height="63" fill="#000"/>
<rect x="1241" y="425" width="5" height="48" fill="#000"/>
<rect x="1251" y="448" width="1" height="33" fill="#000"/>
<rect x="1249.5" y="460.5" width="4" height="12" fill="#fff" stroke="#000"/>
<rect x="1259" y="452" width="1" height="15" fill="#000"/>
<rect x="1257" y="459" width="5" height="8" fill="#000"/>
<rect x="1267" y="455" width="1" height="26" fill="#000"/>
<rect x="1265" y="464" width="5" height="6" fill="#000"/>
<rect x="1275" y="469" width="1" height="28" fill="#000"/>
<rect x="1273" y="470" width="5" height="7" fill="#000"/>
<rect x="1283" y="470" width="1" height="23" fill="#000"/>
<rect x="1281" y="476" width="5" height="8" fill="#000"/>
<rect x="1291" y="481" width="1" height="54" fill="#000"/>
<rect x="1289" y="483" width="5" height="13" fill="#000"/>
<rect x="1299" y="486" width="1" height="19" fill="#000"/>
<rect x="1297" y="495" width="5" height="10" fill="#000"/>
<rect x="1307" y="501" width="1" height="16" fill="#000"/>
<rect x="1305" y="503" width="5" height="12" fill="#000"/>
<rect x="1315" y="494" width="1" height="33" fill="#000"/>
<rect x="1313.5" y="504.5" width="4" height="11" fill="#fff" stroke="#000"/>
<rect x="1323" y="488" width="1" height="21" fill="#000"/>
<rect x="1321.5" y="495.5" width="4" height="8" fill="#fff" stroke="#000"/>
<rect x="1331" y="472" width="1" height="40" fill="#000"/>
<rect x="1329" y="495" width="5" height="12" fill="#000"/>
<rect x="1339" y="395" width="1" height="168" fill="#000"/>
<rect x="1337.5" y="438.5" width="4" height="68" fill="#fff" stroke="#000"/>
<rect x="1347" y="417" width="1" height="22" fill="#000"/>
<rect x="1345.5" y="432.5" width="4" height="6" fill="#fff" stroke="#000"/>
<rect x="1355" y="419" width="1" height="17" fill="#000"/>
<rect x="1353.5" y="420.5" width="4" height="12" fill="#fff" stroke="#000"/>
<rect x="1363" y="388" width="1" height="36" fill="#000"/>
<rect x="1361.5" y="395.5" width="4" height="25" fill="#fff" stroke="#000"/>
<rect x="1371" y="381" width="1" height="37" fill="#000"/>
<rect x="1369" y="395" width="5" height="20" fill="#000"/>
<rect x="1379" y="396" width="1" height="48" fill="#000"/>
<rect x="1377" y="413" width="5" height="26" fill="#000"/>
<rect x="1387" y="376" width="1" height="63" fill="#000"/>
<rect x="1385.5" y="380.5" width="4" height="58" fill="#fff" stroke="#000"/>
<rect x="1395" y="375" width="1" height="18" fill="#000"/>
<rect x="1393" y="381" width="5" height="1" fill="#000"/>
<rect x="1403" y="375" width="1" height="7" fill="#000"/>
<rect x="1401" y="381" width="5" height="1" fill="#000"/>
<rect x="1411" y="358" width="1" height="24" fill="#000"/>
<rect x="1409.5" y="363.5" width="4" height="18" fill="#fff" stroke="#000"/>
<rect x="1419" y="364" width="1" height="28" fill="#000"/>
<rect x="1417" y="364" width="5" height="24" fill="#000"/>
<rect x="1427" y="365" width="1" height="25" fill="#000"/>
<rect x="1425.5" y="375.5" width="4" height="12" fill="#fff" stroke="#000"/>
<rect x="1435" y="277" width="1" height="100" fill="#000"/>
<rect x="1433.5" y="297.5" width="4" height="78" fill="#fff" stroke="#000"/>
<rect x="1443" y="289" width="1" height="15" fill="#000"/>
<rect x="1441" y="297" width="5" height="4" fill="#000"/>
</g>
<g clip-path="url(#cm)">
<rect x="1403" y="308" width="105" height="5" fill="#00ff00" shape-rendering="crispEdges"/>
<polyline points="945.5,234.5 955.5,234.5" fill="none" stroke="#ff0000" shape-rendering="crispEdges"/>
<rect x="884.5" y="225.5" width="61" height="18" fill="#fff" stroke="#ff0000" shape-rendering="crispEdges"/>
<text transform="translate(886.8,241.2) scale(0.93,1)" font-size="17" fill="#ff0000" font-family="'Liberation Sans', Arial, sans-serif">110.593</text>
<polyline points="1097.5,287.5 1107.5,287.5" fill="none" stroke="#ff0000" shape-rendering="crispEdges"/>
<rect x="1036.5" y="278.5" width="61" height="18" fill="#fff" stroke="#ff0000" shape-rendering="crispEdges"/>
<text transform="translate(1038.8,294.2) scale(0.93,1)" font-size="17" fill="#ff0000" font-family="'Liberation Sans', Arial, sans-serif">110.289</text>
<polyline points="753.5,502.5 763.5,502.5" fill="none" stroke="#ff0000" shape-rendering="crispEdges"/>
<rect x="692.5" y="493.5" width="61" height="18" fill="#fff" stroke="#ff0000" shape-rendering="crispEdges"/>
<text transform="translate(694.8,509.2) scale(0.93,1)" font-size="17" fill="#ff0000" font-family="'Liberation Sans', Arial, sans-serif">109.055</text>
<polyline points="1329.5,562.5 1339.5,562.5" fill="none" stroke="#ff0000" shape-rendering="crispEdges"/>
<rect x="1268.5" y="553.5" width="61" height="18" fill="#fff" stroke="#ff0000" shape-rendering="crispEdges"/>
<text transform="translate(1270.8,569.2) scale(0.93,1)" font-size="17" fill="#ff0000" font-family="'Liberation Sans', Arial, sans-serif">108.714</text>
<polyline points="1308,312.5 1318,312.5" fill="none" stroke="#ff0000" shape-rendering="crispEdges"/><rect x="1313.5" y="310.5" width="3" height="3" fill="#fff" stroke="#ff0000" shape-rendering="crispEdges"/>
<rect x="1318.5" y="300.5" width="73" height="23" fill="#fff" stroke="#ff0000" shape-rendering="crispEdges"/>
<text transform="translate(1320.5,320.8) scale(0.89,1)" font-size="21.5" fill="#ff0000" font-family="'Liberation Sans', Arial, sans-serif">110.146</text>
<rect x="1524.5" y="316.5" width="110" height="24" fill="none" stroke="#404040" shape-rendering="crispEdges"/>
<g shape-rendering="crispEdges"><rect x="1577" y="314" width="3" height="2" fill="#00ff00"/><rect x="1578" y="315" width="1" height="1" fill="#fff"/><rect x="1577" y="316" width="3" height="1" fill="#d040d0"/></g>
<text x="1524.2" y="335.5" font-size="20" fill="#00ff00" font-family="'Noto Sans CJK SC', 'WenQuanYi Zen Hei', sans-serif" font-weight="300" letter-spacing="2">多空转折点</text>
<line x1="1337.5" y1="558.5" x2="1457.5" y2="274.3" stroke="#ff0000" stroke-width="2.9"/>
<polygon points="1461,266 1461.8,278.3 1451.7,274.0" fill="#ff0000"/>
</g>
<g clip-path="url(#cd)" shape-rendering="crispEdges">
<rect x="3" y="627" width="1" height="28" fill="#c0c0c0"/>
<rect x="11" y="629" width="1" height="26" fill="#c0c0c0"/>
<rect x="19" y="635" width="1" height="20" fill="#c0c0c0"/>
<rect x="27" y="639" width="1" height="16" fill="#c0c0c0"/>
<rect x="35" y="637" width="1" height="18" fill="#c0c0c0"/>
<rect x="43" y="644" width="1" height="11" fill="#c0c0c0"/>
<rect x="51" y="648" width="1" height="7" fill="#c0c0c0"/>
<rect x="59" y="651" width="1" height="4" fill="#c0c0c0"/>
<rect x="67" y="655" width="1" height="1" fill="#c0c0c0"/>
<rect x="75" y="655" width="1" height="1" fill="#c0c0c0"/>
<rect x="83" y="655" width="1" height="2" fill="#c0c0c0"/>
<rect x="91" y="655" width="1" height="5" fill="#c0c0c0"/>
<rect x="99" y="655" width="1" height="7" fill="#c0c0c0"/>
<rect x="107" y="655" width="1" height="9" fill="#c0c0c0"/>
<rect x="115" y="655" width="1" height="11" fill="#c0c0c0"/>
<rect x="123" y="655" width="1" height="12" fill="#c0c0c0"/>
<rect x="131" y="655" width="1" height="12" fill="#c0c0c0"/>
<rect x="139" y="655" width="1" height="1" fill="#c0c0c0"/>
<rect x="147" y="646" width="1" height="9" fill="#c0c0c0"/>
<rect x="155" y="638" width="1" height="17" fill="#c0c0c0"/>
<rect x="163" y="632" width="1" height="23" fill="#c0c0c0"/>
<rect x="171" y="624" width="1" height="31" fill="#c0c0c0"/>
<rect x="179" y="614" width="1" height="41" fill="#c0c0c0"/>
<rect x="187" y="604" width="1" height="51" fill="#c0c0c0"/>
<rect x="195" y="597" width="1" height="58" fill="#c0c0c0"/>
<rect x="203" y="592" width="1" height="63" fill="#c0c0c0"/>
<rect x="211" y="589" width="1" height="66" fill="#c0c0c0"/>
<rect x="219" y="587" width="1" height="68" fill="#c0c0c0"/>
<rect x="227" y="589" width="1" height="66" fill="#c0c0c0"/>
<rect x="235" y="595" width="1" height="60" fill="#c0c0c0"/>
<rect x="243" y="606" width="1" height="49" fill="#c0c0c0"/>
<rect x="251" y="613" width="1" height="42" fill="#c0c0c0"/>
<rect x="259" y="619" width="1" height="36" fill="#c0c0c0"/>
<rect x="267" y="629" width="1" height="26" fill="#c0c0c0"/>
<rect x="275" y="639" width="1" height="16" fill="#c0c0c0"/>
<rect x="283" y="645" width="1" height="10" fill="#c0c0c0"/>
<rect x="291" y="650" width="1" height="5" fill="#c0c0c0"/>
<rect x="299" y="654" width="1" height="1" fill="#c0c0c0"/>
<rect x="307" y="655" width="1" height="3" fill="#c0c0c0"/>
<rect x="315" y="655" width="1" height="9" fill="#c0c0c0"/>
<rect x="323" y="655" width="1" height="15" fill="#c0c0c0"/>
<rect x="331" y="655" width="1" height="21" fill="#c0c0c0"/>
<rect x="339" y="655" width="1" height="25" fill="#c0c0c0"/>
<rect x="347" y="655" width="1" height="29" fill="#c0c0c0"/>
<rect x="355" y="655" width="1" height="31" fill="#c0c0c0"/>
<rect x="363" y="655" width="1" height="32" fill="#c0c0c0"/>
<rect x="371" y="655" width="1" height="31" fill="#c0c0c0"/>
<rect x="379" y="655" width="1" height="32" fill="#c0c0c0"/>
<rect x="387" y="655" width="1" height="32" fill="#c0c0c0"/>
<rect x="395" y="655" width="1" height="32" fill="#c0c0c0"/>
<rect x="403" y="655" width="1" height="32" fill="#c0c0c0"/>
<rect x="411" y="655" width="1" height="50" fill="#c0c0c0"/>
<rect x="419" y="655" width="1" height="64" fill="#c0c0c0"/>
<rect x="427" y="655" width="1" height="72" fill="#c0c0c0"/>
<rect x="435" y="655" width="1" height="79" fill="#c0c0c0"/>
<rect x="443" y="655" width="1" height="84" fill="#c0c0c0"/>
<rect x="451" y="655" width="1" height="84" fill="#c0c0c0"/>
<rect x="459" y="655" width="1" height="80" fill="#c0c0c0"/>
<rect x="467" y="655" width="1" height="76" fill="#c0c0c0"/>
<rect x="475" y="655" width="1" height="68" fill="#c0c0c0"/>
<rect x="483" y="655" width="1" height="62" fill="#c0c0c0"/>
<rect x="491" y="655" width="1" height="56" fill="#c0c0c0"/>
<rect x="499" y="655" width="1" height="51" fill="#c0c0c0"/>
<rect x="507" y="655" width="1" height="50" fill="#c0c0c0"/>
<rect x="515" y="655" width="1" height="44" fill="#c0c0c0"/>
<rect x="523" y="655" width="1" height="36" fill="#c0c0c0"/>
<rect x="531" y="655" width="1" height="30" fill="#c0c0c0"/>
<rect x="539" y="655" width="1" height="25" fill="#c0c0c0"/>
<rect x="547" y="655" width="1" height="19" fill="#c0c0c0"/>
<rect x="555" y="655" width="1" height="15" fill="#c0c0c0"/>
<rect x="563" y="655" width="1" height="15" fill="#c0c0c0"/>
<rect x="571" y="655" width="1" height="11" fill="#c0c0c0"/>
<rect x="579" y="655" width="1" height="3" fill="#c0c0c0"/>
<rect x="587" y="652" width="1" height="3" fill="#c0c0c0"/>
<rect x="595" y="649" width="1" height="6" fill="#c0c0c0"/>
<rect x="603" y="647" width="1" height="8" fill="#c0c0c0"/>
<rect x="611" y="647" width="1" height="8" fill="#c0c0c0"/>
<rect x="619" y="655" width="1" height="1" fill="#c0c0c0"/>
<rect x="627" y="655" width="1" height="9" fill="#c0c0c0"/>
<rect x="635" y="655" width="1" height="15" fill="#c0c0c0"/>
<rect x="643" y="655" width="1" height="23" fill="#c0c0c0"/>
<rect x="651" y="655" width="1" height="31" fill="#c0c0c0"/>
<rect x="659" y="655" width="1" height="31" fill="#c0c0c0"/>
<rect x="667" y="655" width="1" height="30" fill="#c0c0c0"/>
<rect x="675" y="655" width="1" height="35" fill="#c0c0c0"/>
<rect x="683" y="655" width="1" height="38" fill="#c0c0c0"/>
<rect x="691" y="655" width="1" height="37" fill="#c0c0c0"/>
<rect x="699" y="655" width="1" height="31" fill="#c0c0c0"/>
<rect x="707" y="655" width="1" height="25" fill="#c0c0c0"/>
<rect x="715" y="655" width="1" height="21" fill="#c0c0c0"/>
<rect x="723" y="655" width="1" height="19" fill="#c0c0c0"/>
<rect x="731" y="655" width="1" height="22" fill="#c0c0c0"/>
<rect x="739" y="655" width="1" height="23" fill="#c0c0c0"/>
<rect x="747" y="655" width="1" height="25" fill="#c0c0c0"/>
<rect x="755" y="655" width="1" height="31" fill="#c0c0c0"/>
<rect x="763" y="655" width="1" height="39" fill="#c0c0c0"/>
<rect x="771" y="655" width="1" height="45" fill="#c0c0c0"/>
<rect x="779" y="655" width="1" height="48" fill="#c0c0c0"/>
<rect x="787" y="655" width="1" height="52" fill="#c0c0c0"/>
<rect x="795" y="655" width="1" height="50" fill="#c0c0c0"/>
<rect x="803" y="655" width="1" height="49" fill="#c0c0c0"/>
<rect x="811" y="655" width="1" height="40" fill="#c0c0c0"/>
<rect x="819" y="655" width="1" height="35" fill="#c0c0c0"/>
<rect x="827" y="655" width="1" height="28" fill="#c0c0c0"/>
<rect x="835" y="655" width="1" height="24" fill="#c0c0c0"/>
<rect x="843" y="655" width="1" height="15" fill="#c0c0c0"/>
<rect x="851" y="655" width="1" height="9" fill="#c0c0c0"/>
<rect x="859" y="655" width="1" height="1" fill="#c0c0c0"/>
<rect x="867" y="648" width="1" height="7" fill="#c0c0c0"/>
<rect x="875" y="642" width="1" height="13" fill="#c0c0c0"/>
<rect x="883" y="641" width="1" height="14" fill="#c0c0c0"/>
<rect x="891" y="638" width="1" height="17" fill="#c0c0c0"/>
<rect x="899" y="634" width="1" height="21" fill="#c0c0c0"/>
<rect x="907" y="636" width="1" height="19" fill="#c0c0c0"/>
<rect x="915" y="636" width="1" height="19" fill="#c0c0c0"/>
<rect x="923" y="637" width="1" height="18" fill="#c0c0c0"/>
<rect x="931" y="635" width="1" height="20" fill="#c0c0c0"/>
<rect x="939" y="632" width="1" height="23" fill="#c0c0c0"/>
<rect x="947" y="626" width="1" height="29" fill="#c0c0c0"/>
<rect x="955" y="621" width="1" height="34" fill="#c0c0c0"/>
<rect x="963" y="618" width="1" height="37" fill="#c0c0c0"/>
<rect x="971" y="615" width="1" height="40" fill="#c0c0c0"/>
<rect x="979" y="619" width="1" height="36" fill="#c0c0c0"/>
<rect x="987" y="624" width="1" height="31" fill="#c0c0c0"/>
<rect x="995" y="628" width="1" height="27" fill="#c0c0c0"/>
<rect x="1003" y="630" width="1" height="25" fill="#c0c0c0"/>
<rect x="1011" y="630" width="1" height="25" fill="#c0c0c0"/>
<rect x="1019" y="633" width="1" height="22" fill="#c0c0c0"/>
<rect x="1027" y="637" width="1" height="18" fill="#c0c0c0"/>
<rect x="1035" y="644" width="1" height="11" fill="#c0c0c0"/>
<rect x="1043" y="648" width="1" height="7" fill="#c0c0c0"/>
<rect x="1051" y="655" width="1" height="7" fill="#c0c0c0"/>
<rect x="1059" y="655" width="1" height="16" fill="#c0c0c0"/>
<rect x="1067" y="655" width="1" height="21" fill="#c0c0c0"/>
<rect x="1075" y="655" width="1" height="25" fill="#c0c0c0"/>
<rect x="1083" y="655" width="1" height="24" fill="#c0c0c0"/>
<rect x="1091" y="655" width="1" height="21" fill="#c0c0c0"/>
<rect x="1099" y="655" width="1" height="18" fill="#c0c0c0"/>
<rect x="1107" y="655" width="1" height="20" fill="#c0c0c0"/>
<rect x="1115" y="655" width="1" height="21" fill="#c0c0c0"/>
<rect x="1123" y="655" width="1" height="24" fill="#c0c0c0"/>
<rect x="1131" y="655" width="1" height="24" fill="#c0c0c0"/>
<rect x="1139" y="655" width="1" height="24" fill="#c0c0c0"/>
<rect x="1147" y="655" width="1" height="31" fill="#c0c0c0"/>
<rect x="1155" y="655" width="1" height="38" fill="#c0c0c0"/>
<rect x="1163" y="655" width="1" height="44" fill="#c0c0c0"/>
<rect x="1171" y="655" width="1" height="46" fill="#c0c0c0"/>
<rect x="1179" y="655" width="1" height="47" fill="#c0c0c0"/>
<rect x="1187" y="655" width="1" height="44" fill="#c0c0c0"/>
<rect x="1195" y="655" width="1" height="40" fill="#c0c0c0"/>
<rect x="1203" y="655" width="1" height="35" fill="#c0c0c0"/>
<rect x="1211" y="655" width="1" height="32" fill="#c0c0c0"/>
<rect x="1219" y="655" width="1" height="30" fill="#c0c0c0"/>
<rect x="1227" y="655" width="1" height="29" fill="#c0c0c0"/>
<rect x="1235" y="655" width="1" height="31" fill="#c0c0c0"/>
<rect x="1243" y="655" width="1" height="38" fill="#c0c0c0"/>
<rect x="1251" y="655" width="1" height="42" fill="#c0c0c0"/>
<rect x="1259" y="655" width="1" height="45" fill="#c0c0c0"/>
<rect x="1267" y="655" width="1" height="47" fill="#c0c0c0"/>
<rect x="1275" y="655" width="1" height="50" fill="#c0c0c0"/>
<rect x="1283" y="655" width="1" height="52" fill="#c0c0c0"/>
<rect x="1291" y="655" width="1" height="54" fill="#c0c0c0"/>
<rect x="1299" y="655" width="1" height="57" fill="#c0c0c0"/>
<rect x="1307" y="655" width="1" height="60" fill="#c0c0c0"/>
<rect x="1315" y="655" width="1" height="60" fill="#c0c0c0"/>
<rect x="1323" y="655" width="1" height="58" fill="#c0c0c0"/>
<rect x="1331" y="655" width="1" height="58" fill="#c0c0c0"/>
<rect x="1339" y="655" width="1" height="48" fill="#c0c0c0"/>
<rect x="1347" y="655" width="1" height="39" fill="#c0c0c0"/>
<rect x="1355" y="655" width="1" height="30" fill="#c0c0c0"/>
<rect x="1363" y="655" width="1" height="19" fill="#c0c0c0"/>
<rect x="1371" y="655" width="1" height="13" fill="#c0c0c0"/>
<rect x="1379" y="655" width="1" height="11" fill="#c0c0c0"/>
<rect x="1387" y="655" width="1" height="2" fill="#c0c0c0"/>
<rect x="1395" y="650" width="1" height="5" fill="#c0c0c0"/>
<rect x="1403" y="645" width="1" height="10" fill="#c0c0c0"/>
<rect x="1411" y="639" width="1" height="16" fill="#c0c0c0"/>
<rect x="1419" y="637" width="1" height="18" fill="#c0c0c0"/>
<rect x="1427" y="634" width="1" height="21" fill="#c0c0c0"/>
<rect x="1435" y="623" width="1" height="32" fill="#c0c0c0"/>
<rect x="1443" y="614" width="1" height="41" fill="#c0c0c0"/>
<polyline points="-4.5,610.8 3.5,613.5 11.5,616.3 19.5,619.5 27.5,624.7 35.5,629.5 43.5,634.1 51.5,637.5 59.5,640.5 67.5,641.4 75.5,644.5 83.5,647.6 91.5,650.4 99.5,652.9 107.5,655.9 115.5,658.3 123.5,660.3 131.5,662.1 139.5,662.1 147.5,661.0 155.5,658.9 163.5,655.8 171.5,651.5 179.5,646.0 187.5,639.1 195.5,631.4 203.5,623.1 211.5,615.6 219.5,609.0 227.5,603.7 235.5,599.6 243.5,597.5 251.5,597.4 259.5,599.1 267.5,602.7 275.5,607.9 283.5,614.2 291.5,621.1 299.5,628.3 307.5,635.3 315.5,641.8 323.5,648.2 331.5,654.4 339.5,660.0 347.5,664.9 355.5,669.5 363.5,673.7 371.5,677.3 379.5,680.5 387.5,683.1 395.5,685.0 403.5,686.3 411.5,689.1 419.5,693.0 427.5,697.6 435.5,702.8 443.5,708.6 451.5,714.3 459.5,719.6 467.5,724.5 475.5,728.5 483.5,729.9 491.5,729.0 499.5,726.6 507.5,723.3 515.5,718.9 523.5,713.6 531.5,708.0 539.5,702.3 547.5,696.9 555.5,691.6 563.5,687.1 571.5,682.7 579.5,677.5 587.5,672.3 595.5,667.7 603.5,663.5 611.5,659.8 619.5,657.8 627.5,657.1 635.5,657.2 643.5,658.5 651.5,661.5 659.5,665.3 667.5,669.3 675.5,674.1 683.5,679.3 691.5,683.3 699.5,685.7 707.5,686.7 715.5,686.5 723.5,685.2 731.5,684.2 739.5,683.4 747.5,682.3 755.5,681.4 763.5,681.7 771.5,683.3 779.5,685.9 787.5,689.3 795.5,692.7 803.5,695.6 811.5,697.6 819.5,698.7 827.5,698.4 835.5,696.7 843.5,693.4 851.5,689.0 859.5,683.3 867.5,676.9 875.5,670.1 883.5,664.0 891.5,658.2 899.5,652.7 907.5,648.0 915.5,644.2 923.5,641.2 931.5,638.9 939.5,637.1 947.5,635.3 955.5,633.1 963.5,630.9 971.5,628.8 979.5,626.9 987.5,625.6 995.5,624.6 1003.5,624.1 1011.5,623.9 1019.5,624.7 1027.5,626.5 1035.5,629.4 1043.5,633.0 1051.5,637.8 1059.5,643.0 1067.5,648.4 1075.5,654.0 1083.5,659.4 1091.5,664.2 1099.5,668.2 1107.5,671.7 1115.5,674.8 1123.5,676.7 1131.5,677.7 1139.5,678.0 1147.5,678.7 1155.5,680.2 1163.5,682.8 1171.5,685.9 1179.5,688.8 1187.5,691.3 1195.5,693.0 1203.5,694.2 1211.5,695.0 1219.5,694.9 1227.5,693.9 1235.5,692.4 1243.5,691.5 1251.5,691.0 1259.5,691.1 1267.5,692.0 1275.5,693.6 1283.5,695.8 1291.5,698.5 1299.5,701.7 1307.5,704.9 1315.5,707.4 1323.5,709.2 1331.5,710.6 1339.5,710.6 1347.5,709.4 1355.5,706.9 1363.5,703.0 1371.5,698.1 1379.5,692.8 1387.5,686.4 1395.5,679.4 1403.5,671.9 1411.5,664.8 1419.5,658.5 1427.5,652.9 1435.5,647.2 1443.5,641.2" fill="none" stroke="#ff0000" stroke-dasharray="3 3"/>
</g>
<g clip-path="url(#cd)">
<line x1="1320" y1="716" x2="1444.0" y2="623.0" stroke="#ff0000" stroke-width="3.2"/>
<polygon points="1452,617 1445.7,628.6 1439.1,619.8" fill="#ff0000"/>
</g>
<g clip-path="url(#cr)" shape-rendering="crispEdges">
<line x1="2" y1="785.5" x2="1653" y2="785.5" stroke="#c0c0c0" stroke-dasharray="3 3"/>
<line x1="2" y1="836.5" x2="1653" y2="836.5" stroke="#c0c0c0" stroke-dasharray="3 3"/>
<line x1="2" y1="897.5" x2="1653" y2="897.5" stroke="#c0c0c0" stroke-dasharray="3 3"/>
<polyline points="-4.5,826.5 3.5,824.7 11.5,827.2 19.5,842.5 27.5,841.2 35.5,821.3 43.5,847.9 51.5,842.3 59.5,842.3 67.5,847.1 75.5,836.7 83.5,841.1 91.5,845.0 99.5,844.9 107.5,845.2 115.5,848.7 123.5,843.9 131.5,845.2 139.5,814.1 147.5,812.2 155.5,810.3 163.5,813.7 171.5,806.0 179.5,799.5 187.5,795.9 195.5,796.9 203.5,796.6 211.5,796.6 219.5,796.5 227.5,809.7 235.5,823.5 243.5,840.3 251.5,835.0 259.5,836.1 267.5,849.1 275.5,852.3 283.5,847.4 291.5,844.6 299.5,846.9 307.5,851.1 315.5,855.3 323.5,861.8 331.5,861.7 339.5,863.1 347.5,864.8 355.5,865.1 363.5,860.6 371.5,854.6 379.5,859.5 387.5,860.7 395.5,856.9 403.5,862.2 411.5,892.4 419.5,893.3 427.5,886.4 435.5,887.7 443.5,885.2 451.5,875.9 459.5,864.4 467.5,860.9 475.5,850.6 483.5,852.1 491.5,846.7 499.5,850.8 507.5,857.5 515.5,844.1 523.5,833.7 531.5,835.6 539.5,836.1 547.5,832.7 555.5,832.8 563.5,844.8 571.5,833.9 579.5,819.6 587.5,820.0 595.5,828.4 603.5,827.4 611.5,831.4 619.5,857.0 627.5,859.8 635.5,857.7 643.5,864.3 651.5,867.9 659.5,850.6 667.5,846.6 675.5,859.0 683.5,859.5 691.5,847.9 699.5,836.4 707.5,834.3 715.5,838.2 723.5,841.2 731.5,851.4 739.5,846.5 747.5,851.9 755.5,859.7 763.5,867.1 771.5,865.9 779.5,862.2 787.5,866.0 795.5,852.1 803.5,853.8 811.5,835.1 819.5,839.9 827.5,835.0 835.5,836.3 843.5,826.4 851.5,827.1 859.5,820.4 867.5,818.6 875.5,819.4 883.5,828.0 891.5,822.6 899.5,820.9 907.5,831.6 915.5,830.1 923.5,829.9 931.5,822.2 939.5,819.0 947.5,809.1 955.5,810.7 963.5,808.8 971.5,809.3 979.5,829.1 987.5,837.3 995.5,832.3 1003.5,830.5 1011.5,826.2 1019.5,832.1 1027.5,840.0 1035.5,847.8 1043.5,844.6 1051.5,868.2 1059.5,863.0 1067.5,856.2 1075.5,857.0 1083.5,844.6 1091.5,837.9 1099.5,838.4 1107.5,849.9 1115.5,848.3 1123.5,853.4 1131.5,848.7 1139.5,848.8 1147.5,864.0 1155.5,867.7 1163.5,869.3 1171.5,860.7 1179.5,859.9 1187.5,849.3 1195.5,845.1 1203.5,842.3 1211.5,845.0 1219.5,848.0 1227.5,848.0 1235.5,858.3 1243.5,871.3 1251.5,865.0 1259.5,866.6 1267.5,867.5 1275.5,869.4 1283.5,871.3 1291.5,874.6 1299.5,876.8 1307.5,879.4 1315.5,872.2 1323.5,866.1 1331.5,869.7 1339.5,835.0 1347.5,832.8 1355.5,828.4 1363.5,819.9 1371.5,828.5 1379.5,838.2 1387.5,820.1 1395.5,820.5 1403.5,820.5 1411.5,815.4 1419.5,825.8 1427.5,822.1 1435.5,804.0 1443.5,805.4" fill="none" stroke="#1e90ff"/>
</g>
<g clip-path="url(#cr)">
<line x1="1310" y1="872.5" x2="1447.1" y2="803.5" stroke="#ff0000" stroke-width="3.2"/>
<polygon points="1456,799 1447.8,809.3 1442.8,799.5" fill="#ff0000"/>
</g>
<g shape-rendering="crispEdges" fill="#000">
<rect x="0" y="22" width="1654" height="1"/>
<rect x="1653" y="22" width="1" height="902"/>
<rect x="0" y="575" width="1654" height="1"/>
<rect x="0" y="577" width="1654" height="1"/>
<rect x="0" y="747" width="1654" height="1"/>
<rect x="0" y="749" width="1654" height="1"/>
<rect x="0" y="923" width="1654" height="1"/>
<rect x="1654" y="44" width="3" height="1"/>
<rect x="1654" y="77" width="3" height="1"/>
<rect x="1654" y="110" width="3" height="1"/>
<rect x="1654" y="143" width="3" height="1"/>
<rect x="1654" y="176" width="3" height="1"/>
<rect x="1654" y="209" width="3" height="1"/>
<rect x="1654" y="242" width="3" height="1"/>
<rect x="1654" y="275" width="3" height="1"/>
<rect x="1654" y="308" width="3" height="1"/>
<rect x="1654" y="341" width="3" height="1"/>
<rect x="1654" y="374" width="3" height="1"/>
<rect x="1654" y="407" width="3" height="1"/>
<rect x="1654" y="440" width="3" height="1"/>
<rect x="1654" y="473" width="3" height="1"/>
<rect x="1654" y="506" width="3" height="1"/>
<rect x="1654" y="539" width="3" height="1"/>
<rect x="1654" y="572" width="3" height="1"/>
<rect x="1654" y="579" width="3" height="1"/>
<rect x="1654" y="656" width="3" height="1"/>
<rect x="1654" y="746" width="3" height="1"/>
<rect x="1654" y="751" width="3" height="1"/>
<rect x="1654" y="785" width="3" height="1"/>
<rect x="1654" y="836" width="3" height="1"/>
<rect x="1654" y="897" width="3" height="1"/>
<rect x="1654" y="922" width="3" height="1"/>
<rect x="59" y="924" width="1" height="3"/>
<rect x="123" y="924" width="1" height="3"/>
<rect x="187" y="924" width="1" height="3"/>
<rect x="251" y="924" width="1" height="3"/>
<rect x="315" y="924" width="1" height="3"/>
<rect x="379" y="924" width="1" height="3"/>
<rect x="443" y="924" width="1" height="3"/>
<rect x="507" y="924" width="1" height="3"/>
<rect x="571" y="924" width="1" height="3"/>
<rect x="635" y="924" width="1" height="3"/>
<rect x="699" y="924" width="1" height="3"/>
<rect x="763" y="924" width="1" height="3"/>
<rect x="827" y="924" width="1" height="3"/>
<rect x="891" y="924" width="1" height="3"/>
<rect x="955" y="924" width="1" height="3"/>
<rect x="1019" y="924" width="1" height="3"/>
<rect x="1083" y="924" width="1" height="3"/>
<rect x="1147" y="924" width="1" height="3"/>
<rect x="1211" y="924" width="1" height="3"/>
<rect x="1275" y="924" width="1" height="3"/>
<rect x="1339" y="924" width="1" height="3"/>
<rect x="1403" y="924" width="1" height="3"/>
</g>
<g font-size="10" fill="#000" stroke="#000" stroke-width="0.22" font-family="'Liberation Sans', Arial, sans-serif">
<text transform="translate(1659.4,47.6) scale(0.92,1)" font-size="10">111.680</text>
<text transform="translate(1659.4,80.6) scale(0.92,1)" font-size="10">111.495</text>
<text transform="translate(1659.4,113.6) scale(0.92,1)" font-size="10">111.305</text>
<text transform="translate(1659.4,146.6) scale(0.92,1)" font-size="10">111.115</text>
<text transform="translate(1659.4,179.6) scale(0.92,1)" font-size="10">110.925</text>
<text transform="translate(1659.4,212.6) scale(0.92,1)" font-size="10">110.735</text>
<text transform="translate(1659.4,245.6) scale(0.92,1)" font-size="10">110.545</text>
<text transform="translate(1659.4,344.6) scale(0.92,1)" font-size="10">109.980</text>
<text transform="translate(1659.4,377.6) scale(0.92,1)" font-size="10">109.790</text>
<text transform="translate(1659.4,410.6) scale(0.92,1)" font-size="10">109.600</text>
<text transform="translate(1659.4,443.6) scale(0.92,1)" font-size="10">109.410</text>
<text transform="translate(1659.4,476.6) scale(0.92,1)" font-size="10">109.220</text>
<text transform="translate(1659.4,509.6) scale(0.92,1)" font-size="10">109.030</text>
<text transform="translate(1659.4,542.6) scale(0.92,1)" font-size="10">108.845</text>
<text transform="translate(1659.4,575.6) scale(0.92,1)" font-size="10">108.655</text>
<text transform="translate(1657.3,588) scale(0.92,1)" font-size="10">0.274</text>
<text transform="translate(1657.3,659.6) scale(0.92,1)" font-size="10">0.00</text>
<text transform="translate(1656.9,744) scale(0.92,1)" font-size="10">-0.3242</text>
<text transform="translate(1657.6,760) scale(0.92,1)" font-size="10">100</text>
<text transform="translate(1657.6,789.1) scale(0.92,1)" font-size="10">80</text>
<text transform="translate(1657.6,839.8) scale(0.92,1)" font-size="10">50</text>
<text transform="translate(1657.6,900.9) scale(0.92,1)" font-size="10">15</text>
<text transform="translate(1657.6,920) scale(0.92,1)" font-size="10">0</text>
<text transform="translate(-5.5,936) scale(0.9,1)" font-size="10">25 Jun 2021</text>
<text transform="translate(58.2,936) scale(0.9,1)" font-size="10">28 Jun 20:00</text>
<text transform="translate(122.2,936) scale(0.9,1)" font-size="10">30 Jun 04:00</text>
<text transform="translate(186.2,936) scale(0.9,1)" font-size="10">1 Jul 12:00</text>
<text transform="translate(250.2,936) scale(0.9,1)" font-size="10">4 Jul 23:00</text>
<text transform="translate(314.2,936) scale(0.9,1)" font-size="10">6 Jul 04:00</text>
<text transform="translate(378.2,936) scale(0.9,1)" font-size="10">7 Jul 12:00</text>
<text transform="translate(442.2,936) scale(0.9,1)" font-size="10">8 Jul 20:00</text>
<text transform="translate(506.2,936) scale(0.9,1)" font-size="10">12 Jul 04:00</text>
<text transform="translate(570.2,936) scale(0.9,1)" font-size="10">13 Jul 12:00</text>
<text transform="translate(634.2,936) scale(0.9,1)" font-size="10">14 Jul 20:00</text>
<text transform="translate(698.2,936) scale(0.9,1)" font-size="10">16 Jul 04:00</text>
<text transform="translate(762.2,936) scale(0.9,1)" font-size="10">19 Jul 12:00</text>
<text transform="translate(826.2,936) scale(0.9,1)" font-size="10">20 Jul 20:00</text>
<text transform="translate(890.2,936) scale(0.9,1)" font-size="10">22 Jul 04:00</text>
<text transform="translate(954.2,936) scale(0.9,1)" font-size="10">23 Jul 12:00</text>
<text transform="translate(1018.2,936) scale(0.9,1)" font-size="10">26 Jul 20:00</text>
<text transform="translate(1082.2,936) scale(0.9,1)" font-size="10">28 Jul 04:00</text>
<text transform="translate(1146.2,936) scale(0.9,1)" font-size="10">29 Jul 12:00</text>
<text transform="translate(1210.2,936) scale(0.9,1)" font-size="10">1 Aug 23:00</text>
<text transform="translate(1274.2,936) scale(0.9,1)" font-size="10">3 Aug 04:00</text>
<text transform="translate(1338.2,936) scale(0.9,1)" font-size="10">4 Aug 12:00</text>
<text transform="translate(1402.2,936) scale(0.9,1)" font-size="10">5 Aug 20:00</text>
<text transform="translate(0,590) scale(0.931,1)" font-size="10">MACD(12,26,9) 0.1500 0.0544</text>
<text transform="translate(0,762) scale(0.91,1)" font-size="10">RSI(14) 68.9385</text>
<text transform="translate(10.7,34) scale(0.925,1)" font-size="10">USDJPY-,H4</text>
<text transform="translate(70.5,34) scale(0.92,1)" font-size="10">110.229</text>
<text transform="translate(106.7,34) scale(0.92,1)" font-size="10">110.277</text>
<text transform="translate(142.7,34) scale(0.92,1)" font-size="10">110.196</text>
<text transform="translate(178.7,34) scale(0.92,1)" font-size="10">110.217</text>
</g>
<polygon points="0,33.5 2.5,29 5,33.5" fill="#000"/>
<g shape-rendering="crispEdges">
<rect x="1655" y="249" width="41" height="11" fill="#ff0000"/>
<rect x="1655" y="269" width="41" height="11" fill="#ff0000"/>
<rect x="1655" y="295" width="41" height="11" fill="#000000"/>
<rect x="1655" y="306" width="41" height="11" fill="#32cd32"/>
<rect x="1655" y="327" width="41" height="11" fill="#0000ff"/>
<rect x="1655" y="347" width="41" height="11" fill="#0000ff"/>
</g>
<g font-size="10" fill="#fff" font-family="'Liberation Sans', Arial, sans-serif">
<text transform="translate(1659.7,257.9) scale(0.92,1)" font-size="10">110.472</text>
<text transform="translate(1659.7,277.9) scale(0.92,1)" font-size="10">110.357</text>
<text transform="translate(1659.7,303.9) scale(0.92,1)" font-size="10">110.217</text>
<text transform="translate(1659.7,314.9) scale(0.92,1)" font-size="10">110.146</text>
<text transform="translate(1659.7,335.9) scale(0.92,1)" font-size="10">110.025</text>
<text transform="translate(1659.7,355.9) scale(0.92,1)" font-size="10">109.911</text>
</g>
<rect x="0" y="42" width="217" height="57" fill="#fff"/>
<rect x="0" y="42" width="50" height="24" fill="url(#gbtn)"/>
<rect x="0" y="42" width="50" height="1" fill="#1a1aa0"/>
<rect x="166" y="42" width="51" height="24" fill="url(#gbtn)"/>
<rect x="166" y="42" width="51" height="1" fill="#1a1aa0"/>
<rect x="0" y="66" width="107" height="33" fill="url(#gpx)"/>
<rect x="109" y="66" width="108" height="33" fill="url(#gpx)"/>
<rect x="2" y="65" width="44" height="1" fill="#10108a"/>
<rect x="2" y="66" width="44" height="1" fill="#7a7aff"/>
<rect x="169" y="65" width="44" height="1" fill="#10108a"/>
<rect x="169" y="66" width="44" height="1" fill="#7a7aff"/>
<rect x="52.5" y="42.5" width="110" height="21" fill="#fff" stroke="#a8a8a8"/>
<rect x="53" y="43" width="20" height="20" fill="url(#ggr)" stroke="#b0b0b0" stroke-width="0.8"/>
<rect x="141.5" y="43" width="20.5" height="20" fill="url(#ggr)" stroke="#b0b0b0" stroke-width="0.8"/>
<polygon points="59.5,51.5 65.5,51.5 62.5,54.5" fill="#5060c0"/>
<polygon points="148.5,54.5 154.5,54.5 151.5,51.5" fill="#5060c0"/>
<g fill="#fff" font-family="'Liberation Sans', Arial, sans-serif">
<text transform="translate(10.7,58) scale(0.83,1)" font-size="12.4">SELL</text>
<text transform="translate(178.6,58) scale(0.91,1)" font-size="12.4">BUY</text>
<text transform="translate(21.7,93.7) scale(1.0,1)" font-size="12.3" font-weight="bold">110</text>
<text transform="translate(46.2,93.7) scale(0.93,1)" font-size="33.4">21</text>
<text transform="translate(85.4,77.9) scale(1.0,1)" font-size="12.3">7</text>
<text transform="translate(131.5,93.7) scale(1.0,1)" font-size="12.3" font-weight="bold">110</text>
<text transform="translate(156.4,93.7) scale(0.93,1)" font-size="33.4">23</text>
<text transform="translate(195.9,77.9) scale(1.0,1)" font-size="12.3">4</text>
</g>
<g fill="#000" font-family="'Liberation Sans', Arial, sans-serif">
<text transform="translate(137.3,57.1) scale(0.915,1)" font-size="12.8" text-anchor="end">1.00</text>
</g><rect x="1699" y="20" width="1" height="918" fill="#e3e3e3"/></svg>
</body></html>
